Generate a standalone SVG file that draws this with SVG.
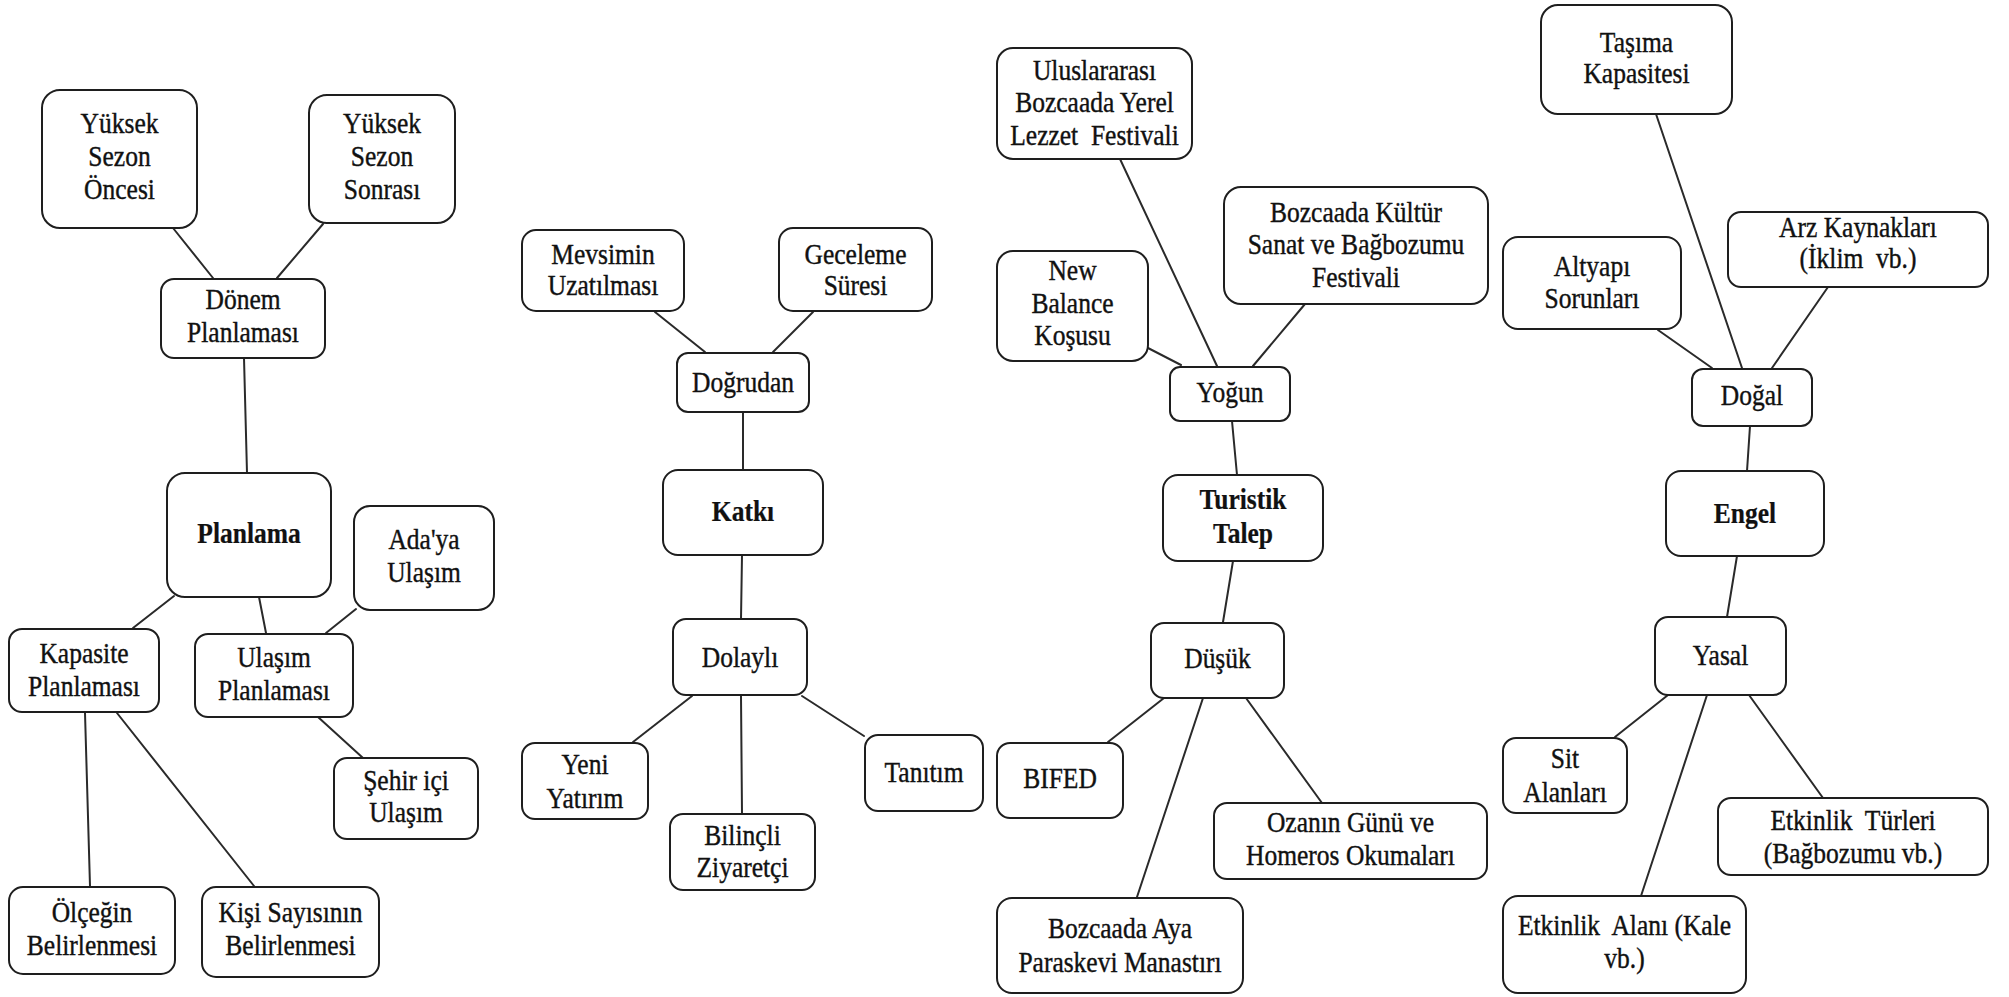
<svg xmlns="http://www.w3.org/2000/svg" width="2009" height="997" viewBox="0 0 2009 997">
<style>
.n rect { fill:#ffffff; stroke:#1e1e1e; stroke-width:2; }
.n text { font-family:"Liberation Serif","Times New Roman",serif; font-size:25.5px; fill:#111111; stroke:#111111; stroke-width:0.35; text-anchor:middle; }
.n.b text { font-weight:bold; stroke-width:0.2; }
#connectors line { stroke:#2a2a2a; stroke-width:2; stroke-linecap:round; }
</style>
<rect x="0" y="0" width="2009" height="997" fill="#ffffff"/>
<g id="connectors">
<line x1="173" y1="228" x2="213" y2="278"/>
<line x1="323" y1="224" x2="277" y2="278"/>
<line x1="244" y1="358" x2="247" y2="473"/>
<line x1="174" y1="596" x2="133" y2="628"/>
<line x1="259" y1="597" x2="266" y2="633"/>
<line x1="356" y1="609" x2="326" y2="633"/>
<line x1="318" y1="717" x2="363" y2="758"/>
<line x1="85" y1="713" x2="90" y2="886"/>
<line x1="117" y1="713" x2="254" y2="886"/>
<line x1="655" y1="312" x2="705" y2="352"/>
<line x1="813" y1="312" x2="773" y2="352"/>
<line x1="743" y1="412" x2="743" y2="470"/>
<line x1="742" y1="555" x2="741" y2="619"/>
<line x1="692" y1="696" x2="633" y2="742"/>
<line x1="741" y1="696" x2="742" y2="814"/>
<line x1="802" y1="696" x2="864" y2="736"/>
<line x1="1120" y1="159" x2="1217" y2="366"/>
<line x1="1305" y1="304" x2="1253" y2="366"/>
<line x1="1148" y1="348" x2="1181" y2="365"/>
<line x1="1232" y1="421" x2="1237" y2="475"/>
<line x1="1233" y1="561" x2="1223" y2="622"/>
<line x1="1164" y1="698" x2="1108" y2="742"/>
<line x1="1203" y1="698" x2="1137" y2="897"/>
<line x1="1246" y1="698" x2="1322" y2="803"/>
<line x1="1656" y1="114" x2="1742" y2="368"/>
<line x1="1658" y1="330" x2="1712" y2="368"/>
<line x1="1828" y1="287" x2="1772" y2="368"/>
<line x1="1750" y1="426" x2="1747" y2="471"/>
<line x1="1737" y1="556" x2="1727" y2="617"/>
<line x1="1668" y1="695" x2="1615" y2="737"/>
<line x1="1707" y1="695" x2="1641" y2="896"/>
<line x1="1749" y1="695" x2="1823" y2="798"/>
</g>

<g id="yuksek-sezon-oncesi" class="n"><rect x="42" y="90" width="155" height="138" rx="18"/>
<text transform="translate(119.5,133) scale(1,1.16)"><tspan x="0" y="0">Yüksek</tspan><tspan x="0" y="28.4">Sezon</tspan><tspan x="0" y="56.9">Öncesi</tspan></text></g>
<g id="yuksek-sezon-sonrasi" class="n"><rect x="309" y="95" width="146" height="128" rx="18"/>
<text transform="translate(382,133) scale(1,1.16)"><tspan x="0" y="0">Yüksek</tspan><tspan x="0" y="28.4">Sezon</tspan><tspan x="0" y="56.9">Sonrası</tspan></text></g>
<g id="donem-planlamasi" class="n"><rect x="161" y="279" width="164" height="79" rx="13"/>
<text transform="translate(243,309) scale(1,1.16)"><tspan x="0" y="0">Dönem</tspan><tspan x="0" y="28.4">Planlaması</tspan></text></g>
<g id="planlama" class="n b"><rect x="167" y="473" width="164" height="124" rx="18"/>
<text transform="translate(249,543) scale(1,1.16)">Planlama</text></g>
<g id="adaya-ulasim" class="n"><rect x="354" y="506" width="140" height="104" rx="16"/>
<text transform="translate(424,549) scale(1,1.16)"><tspan x="0" y="0">Ada'ya</tspan><tspan x="0" y="28.4">Ulaşım</tspan></text></g>
<g id="kapasite-planlamasi" class="n"><rect x="9" y="629" width="150" height="83" rx="13"/>
<text transform="translate(84,663) scale(1,1.16)"><tspan x="0" y="0">Kapasite</tspan><tspan x="0" y="28.4">Planlaması</tspan></text></g>
<g id="ulasim-planlamasi" class="n"><rect x="195" y="634" width="158" height="83" rx="13"/>
<text transform="translate(274,667) scale(1,1.16)"><tspan x="0" y="0">Ulaşım</tspan><tspan x="0" y="28.4">Planlaması</tspan></text></g>
<g id="sehir-ici-ulasim" class="n"><rect x="334" y="758" width="144" height="81" rx="13"/>
<text transform="translate(406,790) scale(1,1.16)"><tspan x="0" y="0">Şehir içi</tspan><tspan x="0" y="27.6">Ulaşım</tspan></text></g>
<g id="olcegin-belirlenmesi" class="n"><rect x="9" y="887" width="166" height="87" rx="14"/>
<text transform="translate(92,922) scale(1,1.16)"><tspan x="0" y="0">Ölçeğin</tspan><tspan x="0" y="28.4">Belirlenmesi</tspan></text></g>
<g id="kisi-sayisinin-belirlenmesi" class="n"><rect x="202" y="887" width="177" height="90" rx="14"/>
<text transform="translate(290.5,922) scale(1,1.16)"><tspan x="0" y="0">Kişi Sayısının</tspan><tspan x="0" y="28.4">Belirlenmesi</tspan></text></g>

<g id="mevsimin-uzatilmasi" class="n"><rect x="522" y="230" width="162" height="81" rx="14"/>
<text transform="translate(603,264) scale(1,1.16)"><tspan x="0" y="0">Mevsimin</tspan><tspan x="0" y="26.7">Uzatılması</tspan></text></g>
<g id="geceleme-suresi" class="n"><rect x="779" y="228" width="153" height="83" rx="14"/>
<text transform="translate(855.5,264) scale(1,1.16)"><tspan x="0" y="0">Geceleme</tspan><tspan x="0" y="26.7">Süresi</tspan></text></g>
<g id="dogrudan" class="n"><rect x="677" y="353" width="132" height="59" rx="11"/>
<text transform="translate(743,392) scale(1,1.16)">Doğrudan</text></g>
<g id="katki" class="n b"><rect x="663" y="470" width="160" height="85" rx="15"/>
<text transform="translate(743,521) scale(1,1.16)">Katkı</text></g>
<g id="dolayli" class="n"><rect x="673" y="619" width="134" height="76" rx="13"/>
<text transform="translate(740,667) scale(1,1.16)">Dolaylı</text></g>
<g id="yeni-yatirim" class="n"><rect x="522" y="743" width="126" height="76" rx="13"/>
<text transform="translate(585,774) scale(1,1.16)"><tspan x="0" y="0">Yeni</tspan><tspan x="0" y="29.3">Yatırım</tspan></text></g>
<g id="bilincli-ziyaretci" class="n"><rect x="670" y="814" width="145" height="76" rx="13"/>
<text transform="translate(742.5,845) scale(1,1.16)"><tspan x="0" y="0">Bilinçli</tspan><tspan x="0" y="28">Ziyaretçi</tspan></text></g>
<g id="tanitim" class="n"><rect x="865" y="735" width="118" height="76" rx="13"/>
<text transform="translate(924,782) scale(1,1.16)">Tanıtım</text></g>

<g id="uluslararasi-lezzet-festivali" class="n"><rect x="997" y="48" width="195" height="111" rx="16"/>
<text transform="translate(1094.5,80) scale(1,1.16)"><tspan x="0" y="0">Uluslararası</tspan><tspan x="0" y="27.6">Bozcaada Yerel</tspan><tspan x="0" y="56">Lezzet&#160; Festivali</tspan></text></g>
<g id="kultur-sanat-festivali" class="n"><rect x="1224" y="187" width="264" height="117" rx="17"/>
<text transform="translate(1356,222) scale(1,1.16)"><tspan x="0" y="0">Bozcaada Kültür</tspan><tspan x="0" y="27.6">Sanat ve Bağbozumu</tspan><tspan x="0" y="56">Festivali</tspan></text></g>
<g id="new-balance-kosusu" class="n"><rect x="997" y="251" width="151" height="110" rx="16"/>
<text transform="translate(1072.5,280) scale(1,1.16)"><tspan x="0" y="0">New</tspan><tspan x="0" y="28.4">Balance</tspan><tspan x="0" y="56">Koşusu</tspan></text></g>
<g id="yogun" class="n"><rect x="1170" y="367" width="120" height="54" rx="10"/>
<text transform="translate(1230,402) scale(1,1.16)">Yoğun</text></g>
<g id="turistik-talep" class="n b"><rect x="1163" y="475" width="160" height="86" rx="15"/>
<text transform="translate(1243,509) scale(1,1.16)"><tspan x="0" y="0">Turistik</tspan><tspan x="0" y="29.3">Talep</tspan></text></g>
<g id="dusuk" class="n"><rect x="1151" y="623" width="133" height="75" rx="13"/>
<text transform="translate(1217.5,668) scale(1,1.16)">Düşük</text></g>
<g id="bifed" class="n"><rect x="997" y="743" width="126" height="75" rx="13"/>
<text transform="translate(1060,788) scale(1,1.16)">BIFED</text></g>
<g id="ozanin-gunu" class="n"><rect x="1214" y="803" width="273" height="76" rx="13"/>
<text transform="translate(1350.5,832) scale(1,1.16)"><tspan x="0" y="0">Ozanın Günü ve</tspan><tspan x="0" y="28.4">Homeros Okumaları</tspan></text></g>
<g id="aya-paraskevi-manastiri" class="n"><rect x="997" y="898" width="246" height="95" rx="15"/>
<text transform="translate(1120,938) scale(1,1.16)"><tspan x="0" y="0">Bozcaada Aya</tspan><tspan x="0" y="29.3">Paraskevi Manastırı</tspan></text></g>

<g id="tasima-kapasitesi" class="n"><rect x="1541" y="5" width="191" height="109" rx="17"/>
<text transform="translate(1636.5,52) scale(1,1.16)"><tspan x="0" y="0">Taşıma</tspan><tspan x="0" y="26.7">Kapasitesi</tspan></text></g>
<g id="altyapi-sorunlari" class="n"><rect x="1503" y="237" width="178" height="92" rx="15"/>
<text transform="translate(1592,276) scale(1,1.16)"><tspan x="0" y="0">Altyapı</tspan><tspan x="0" y="27.6">Sorunları</tspan></text></g>
<g id="arz-kaynaklari" class="n"><rect x="1728" y="212" width="260" height="75" rx="13"/>
<text transform="translate(1858,237) scale(1,1.16)"><tspan x="0" y="0">Arz Kaynakları</tspan><tspan x="0" y="26.7">(İklim&#160; vb.)</tspan></text></g>
<g id="dogal" class="n"><rect x="1692" y="369" width="120" height="57" rx="11"/>
<text transform="translate(1752,405) scale(1,1.16)">Doğal</text></g>
<g id="engel" class="n b"><rect x="1666" y="471" width="158" height="85" rx="15"/>
<text transform="translate(1745,523) scale(1,1.16)">Engel</text></g>
<g id="yasal" class="n"><rect x="1655" y="617" width="131" height="78" rx="13"/>
<text transform="translate(1720.5,665) scale(1,1.16)">Yasal</text></g>
<g id="sit-alanlari" class="n"><rect x="1503" y="738" width="124" height="75" rx="13"/>
<text transform="translate(1565,768) scale(1,1.16)"><tspan x="0" y="0">Sit</tspan><tspan x="0" y="29.3">Alanları</tspan></text></g>
<g id="etkinlik-turleri" class="n"><rect x="1718" y="798" width="270" height="77" rx="13"/>
<text transform="translate(1853,830) scale(1,1.16)"><tspan x="0" y="0">Etkinlik&#160; Türleri</tspan><tspan x="0" y="28.4">(Bağbozumu vb.)</tspan></text></g>
<g id="etkinlik-alani" class="n"><rect x="1503" y="896" width="243" height="97" rx="15"/>
<text transform="translate(1624.5,935) scale(1,1.16)"><tspan x="0" y="0">Etkinlik&#160; Alanı (Kale</tspan><tspan x="0" y="28.4">vb.)</tspan></text></g>
</svg>
